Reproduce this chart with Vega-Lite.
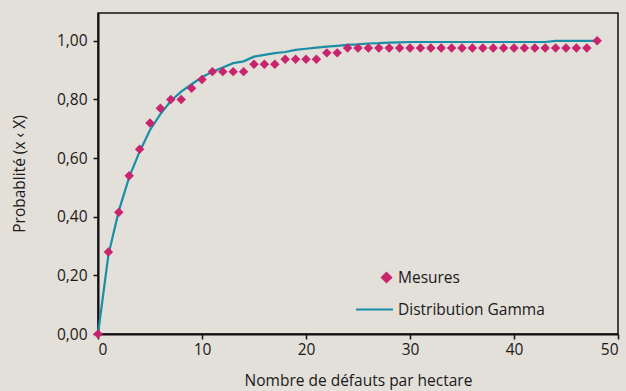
{
  "$schema": "https://vega.github.io/schema/vega-lite/v6.json",
  "autosize": "none",
  "width": 520,
  "height": 321,
  "padding": {"left": 98, "top": 13, "right": 8, "bottom": 57},
  "background": "#e3dfd9",
  "config": {
    "view": {"stroke": "#111111", "strokeWidth": 1.5, "fill": "#e3dfd9"},
    "font": "Open Sans",
    "axis": {
      "domainColor": "#111111", "domainWidth": 2, "tickColor": "#111111", "tickWidth": 1.5, "tickSize": 5,
      "labelColor": "#1a1a1a", "labelFontSize": 15.5, "titleFontSize": 15.5, "titleFontWeight": "normal", "titleColor": "#1a1a1a", "grid": false, "labelFont": "Open Sans", "titleFont": "Open Sans"
    }
  },
  "data": {"values": [
    {"x":0,"y":0,"s":"Mesures"},{"x":1,"y":0.28,"s":"Mesures"},{"x":2,"y":0.415,"s":"Mesures"},{"x":3,"y":0.54,"s":"Mesures"},{"x":4,"y":0.63,"s":"Mesures"},{"x":5,"y":0.72,"s":"Mesures"},{"x":6,"y":0.77,"s":"Mesures"},{"x":7,"y":0.80,"s":"Mesures"},{"x":8,"y":0.80,"s":"Mesures"},{"x":9,"y":0.838,"s":"Mesures"},{"x":10,"y":0.868,"s":"Mesures"},{"x":11,"y":0.895,"s":"Mesures"},{"x":12,"y":0.895,"s":"Mesures"},{"x":13,"y":0.895,"s":"Mesures"},{"x":14,"y":0.895,"s":"Mesures"},{"x":15,"y":0.92,"s":"Mesures"},{"x":16,"y":0.92,"s":"Mesures"},{"x":17,"y":0.92,"s":"Mesures"},{"x":18,"y":0.937,"s":"Mesures"},{"x":19,"y":0.937,"s":"Mesures"},{"x":20,"y":0.937,"s":"Mesures"},{"x":21,"y":0.937,"s":"Mesures"},{"x":22,"y":0.959,"s":"Mesures"},{"x":23,"y":0.959,"s":"Mesures"},{"x":24,"y":0.976,"s":"Mesures"},{"x":25,"y":0.976,"s":"Mesures"},{"x":26,"y":0.976,"s":"Mesures"},{"x":27,"y":0.976,"s":"Mesures"},{"x":28,"y":0.976,"s":"Mesures"},{"x":29,"y":0.976,"s":"Mesures"},{"x":30,"y":0.976,"s":"Mesures"},{"x":31,"y":0.976,"s":"Mesures"},{"x":32,"y":0.976,"s":"Mesures"},{"x":33,"y":0.976,"s":"Mesures"},{"x":34,"y":0.976,"s":"Mesures"},{"x":35,"y":0.976,"s":"Mesures"},{"x":36,"y":0.976,"s":"Mesures"},{"x":37,"y":0.976,"s":"Mesures"},{"x":38,"y":0.976,"s":"Mesures"},{"x":39,"y":0.976,"s":"Mesures"},{"x":40,"y":0.976,"s":"Mesures"},{"x":41,"y":0.976,"s":"Mesures"},{"x":42,"y":0.976,"s":"Mesures"},{"x":43,"y":0.976,"s":"Mesures"},{"x":44,"y":0.976,"s":"Mesures"},{"x":45,"y":0.976,"s":"Mesures"},{"x":46,"y":0.976,"s":"Mesures"},{"x":47,"y":0.976,"s":"Mesures"},{"x":48,"y":1.0,"s":"Mesures"},
    {"x":0,"y":0,"s":"Distribution Gamma"},{"x":1,"y":0.27,"s":"Distribution Gamma"},{"x":2,"y":0.42,"s":"Distribution Gamma"},{"x":3,"y":0.535,"s":"Distribution Gamma"},{"x":4,"y":0.622,"s":"Distribution Gamma"},{"x":5,"y":0.696,"s":"Distribution Gamma"},{"x":6,"y":0.75,"s":"Distribution Gamma"},{"x":7,"y":0.795,"s":"Distribution Gamma"},{"x":8,"y":0.827,"s":"Distribution Gamma"},{"x":9,"y":0.852,"s":"Distribution Gamma"},{"x":10,"y":0.876,"s":"Distribution Gamma"},{"x":11,"y":0.895,"s":"Distribution Gamma"},{"x":12,"y":0.909,"s":"Distribution Gamma"},{"x":13,"y":0.924,"s":"Distribution Gamma"},{"x":14,"y":0.93,"s":"Distribution Gamma"},{"x":15,"y":0.946,"s":"Distribution Gamma"},{"x":16,"y":0.952,"s":"Distribution Gamma"},{"x":17,"y":0.958,"s":"Distribution Gamma"},{"x":18,"y":0.962,"s":"Distribution Gamma"},{"x":19,"y":0.969,"s":"Distribution Gamma"},{"x":20,"y":0.973,"s":"Distribution Gamma"},{"x":21,"y":0.977,"s":"Distribution Gamma"},{"x":22,"y":0.98,"s":"Distribution Gamma"},{"x":23,"y":0.983,"s":"Distribution Gamma"},{"x":24,"y":0.986,"s":"Distribution Gamma"},{"x":25,"y":0.988,"s":"Distribution Gamma"},{"x":26,"y":0.991,"s":"Distribution Gamma"},{"x":27,"y":0.992,"s":"Distribution Gamma"},{"x":28,"y":0.994,"s":"Distribution Gamma"},{"x":29,"y":0.995,"s":"Distribution Gamma"},{"x":30,"y":0.996,"s":"Distribution Gamma"},{"x":35,"y":0.996,"s":"Distribution Gamma"},{"x":40,"y":0.996,"s":"Distribution Gamma"},{"x":43,"y":0.996,"s":"Distribution Gamma"},{"x":44,"y":1.0,"s":"Distribution Gamma"},{"x":48,"y":1.0,"s":"Distribution Gamma"}
  ]},
  "encoding": {
    "x": {"field": "x", "type": "quantitative", "scale": {"domain": [0, 50], "nice": false},
      "axis": {"values": [0,10,20,30,40,50], "title": "Nombre de défauts par hectare", "labelPadding": 3, "titlePadding": 16}},
    "y": {"field": "y", "type": "quantitative", "scale": {"domain": [0, 1.095], "nice": false},
      "axis": {"values": [0,0.2,0.4,0.6,0.8,1.0], "labelExpr": "replace(format(datum.value, '.2f'), '.', ',')", "title": "Probablité (x ‹ X)", "labelPadding": 6, "titlePadding": 29}},
    "color": {"field": "s", "type": "nominal",
      "scale": {"domain": ["Mesures", "Distribution Gamma"], "range": ["#c9246e", "#1a8ea6"]},
      "legend": {"title": null, "orient": "none", "legendX": 257, "legendY": 245, "symbolType": "circle", "symbolSize": 1369, "labelFontSize": 15.5, "labelColor": "#1a1a1a", "labelOffset": 4, "rowPadding": 3,
        "encode": {"symbols": {"update": {
          "shape": {"signal": "datum.value === 'Mesures' ? 'M0.65,-0.25L0.9,0L0.65,0.25L0.4,0Z' : 'M-1,0H1'"},
          "fill": {"signal": "datum.value === 'Mesures' ? '#c9246e' : 'transparent'"},
          "stroke": {"signal": "datum.value === 'Mesures' ? '#c9246e' : '#1a8ea6'"},
          "strokeWidth": {"value": 2}
        }}}}
    }
  },
  "layer": [
    {"transform": [{"filter": "datum.s === 'Distribution Gamma'"}], "mark": {"type": "line", "strokeWidth": 2.2}},
    {"transform": [{"filter": "datum.s === 'Mesures'"}], "mark": {"type": "point", "shape": "diamond", "filled": true, "size": 90, "opacity": 1}}
  ]
}
